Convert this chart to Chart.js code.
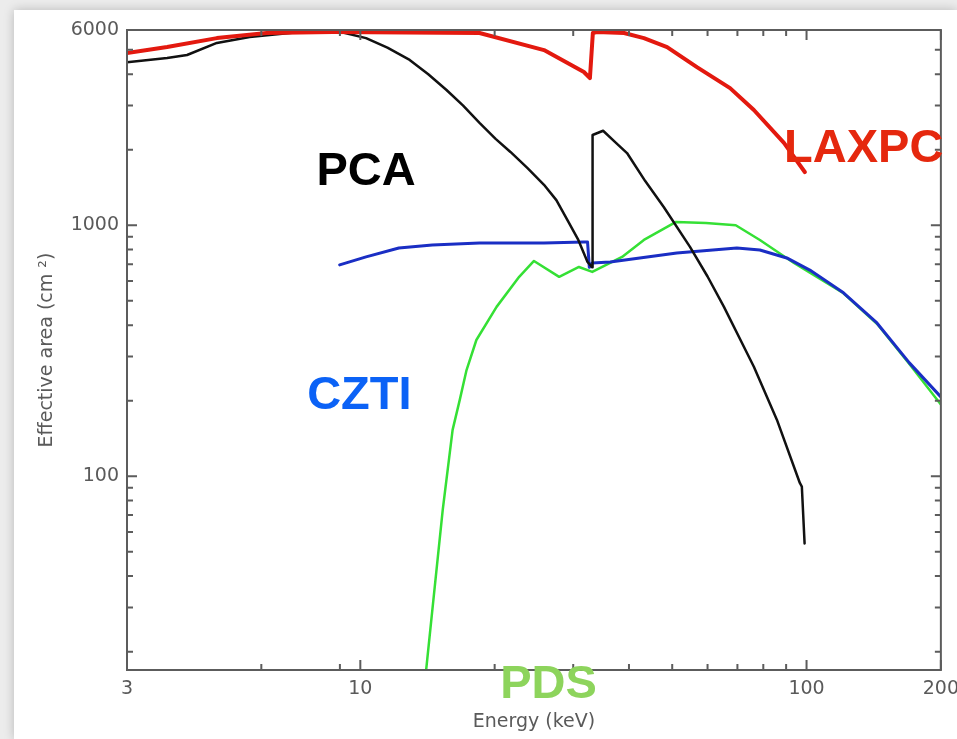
<!DOCTYPE html>
<html>
<head>
<meta charset="utf-8">
<script src="https://cdn.jsdelivr.net/npm/chart.js@4/dist/chart.umd.min.js"></script>
<style>
  html, body { margin: 0; padding: 0; background: #ececec; overflow: hidden; }
  .card { position: absolute; left: 14px; top: 10px; right: 0; bottom: 0; background: #fff; box-shadow: 0 0 10px rgba(0,0,0,0.22); }
  #chart { position: absolute; left: 0; top: 0; }
</style>
</head>
<body>
<div class="card"></div>
<canvas id="chart" width="967" height="739"></canvas>
<script>
// energy (keV) / effective area (cm^2)
const laxpcEnergy = [3, 3.69, 4.77, 6.17, 8.67, 18.5, 25.8, 31.7, 32.7, 33.2, 33.9, 39.0, 43.2, 48.7, 56.8, 67.4, 76.2, 89.0, 99.1];
const laxpcArea   = [4860, 5130, 5570, 5840, 5890, 5840, 4990, 4080, 3860, 5840, 5890, 5840, 5570, 5130, 4270, 3520, 2880, 2130, 1630];

const pcaEnergy = [3, 3.69, 4.09, 4.77, 5.65, 7.31, 8.85, 10.3, 11.5, 12.9, 14.2, 15.6, 17.0, 18.5, 20.1, 21.7, 23.7, 25.8, 27.5, 29.1, 30.8, 32.3, 33.1, 33.15, 35.0, 37.2, 39.6, 43.5, 47.9, 54.8, 60.0, 65.3, 76.2, 85.8, 96.6, 97.6, 99.0];
const pcaArea   = [4460, 4640, 4770, 5330, 5630, 5890, 5950, 5570, 5100, 4560, 4000, 3460, 3000, 2560, 2210, 1960, 1690, 1450, 1260, 1050, 874, 714, 680, 2290, 2380, 2150, 1940, 1500, 1180, 820, 625, 473, 273, 168, 94, 91, 54];

const cztiEnergy = [8.99, 10.3, 12.2, 14.5, 18.5, 25.8, 31.7, 32.3, 32.6, 33.1, 36.3, 51.2, 69.8, 78.6, 90.3, 101.7, 121, 143.8, 170, 200];
const cztiArea   = [695, 748, 812, 834, 850, 850, 858, 858, 680, 708, 714, 776, 812, 797, 741, 663, 538, 408, 283, 207];

const pdsEnergy = [14.0, 14.5, 15.3, 16.1, 16.7, 17.3, 18.2, 20.2, 22.7, 24.5, 27.9, 30.9, 33.1, 38.6, 43.2, 51.0, 59.5, 69.4, 78.6, 93.7, 121, 144, 170, 200];
const pdsArea   = [16, 29.3, 73.4, 153, 201, 265, 349, 473, 623, 721, 623, 682, 652, 748, 874, 1031, 1021, 1000, 874, 708, 536, 404, 280, 193];

const xMajorTicks = [3, 10, 100, 200];
const xMinorTicks = [6, 9, 20, 30, 40, 50, 60, 70, 80, 90];
const yMajorTicks = [100, 1000, 6000];
const yMinorTicks = [20, 30, 40, 50, 60, 70, 80, 90, 200, 300, 400, 500, 600, 700, 800, 900, 2000, 3000, 4000, 5000];

// instrument names, placed in data coordinates (centre x / baseline)
const labelText   = ["PCA", "LAXPC", "CZTI", "PDS"];
const labelEnergy = [10.3, 134.3, 9.95, 26.4];
const labelArea   = [1447, 1786, 185.6, 13.1];
const labelColor  = ["#000000", "#e5280e", "#0b62f6", "#8dd45c"];

const pairs = (xs, ys) => xs.map((x, i) => ({ x: x, y: ys[i] }));

const frameColor = "#5c5c5c";

// inward ticks on all four sides + the frame
const frameTicks = {
  id: "frameTicks",
  afterDatasetsDraw(chart) {
    const ctx = chart.ctx;
    const a = chart.chartArea;
    const xs = chart.scales.x, ys = chart.scales.y;
    ctx.save();
    ctx.strokeStyle = frameColor;
    ctx.lineWidth = 2;
    ctx.strokeRect(a.left, a.top, a.right - a.left, a.bottom - a.top);
    const tick = (vals, len) => {
      vals.forEach(v => {
        const px = xs.getPixelForValue(v);
        if (px < a.left - 0.5 || px > a.right + 0.5) return;
        ctx.beginPath();
        ctx.moveTo(px, a.bottom); ctx.lineTo(px, a.bottom - len);
        ctx.moveTo(px, a.top); ctx.lineTo(px, a.top + len);
        ctx.stroke();
      });
    };
    const ytick = (vals, len) => {
      vals.forEach(v => {
        const py = ys.getPixelForValue(v);
        if (py < a.top - 0.5 || py > a.bottom + 0.5) return;
        ctx.beginPath();
        ctx.moveTo(a.left, py); ctx.lineTo(a.left + len, py);
        ctx.moveTo(a.right, py); ctx.lineTo(a.right - len, py);
        ctx.stroke();
      });
    };
    tick(xMajorTicks, 10);
    tick(xMinorTicks, 6);
    ytick(yMajorTicks, 10);
    ytick(yMinorTicks, 6);
    ctx.restore();
  },
  afterDraw(chart) {
    const ctx = chart.ctx;
    const xs = chart.scales.x, ys = chart.scales.y;
    ctx.save();
    ctx.font = "bold 47px 'Liberation Sans', Arial, sans-serif";
    ctx.textAlign = "left";
    ctx.textBaseline = "alphabetic";
    labelText.forEach((t, i) => {
      ctx.fillStyle = labelColor[i];
      const px = xs.getPixelForValue(labelEnergy[i]);
      const py = ys.getPixelForValue(labelArea[i]);
      const w = ctx.measureText(t).width;
      ctx.fillText(t, px - w / 2, py);
    });
    ctx.restore();
  }
};

new Chart(document.getElementById("chart").getContext("2d"), {
  type: "line",
  data: {
    datasets: [
      { label: "LAXPC", data: pairs(laxpcEnergy, laxpcArea), borderColor: "#e3190f", borderWidth: 4 },
      { label: "PCA", data: pairs(pcaEnergy, pcaArea), borderColor: "#111111", borderWidth: 2.5 },
      { label: "CZTI", data: pairs(cztiEnergy, cztiArea), borderColor: "#1a2ec4", borderWidth: 3 },
      { label: "PDS", data: pairs(pdsEnergy, pdsArea), borderColor: "#35e035", borderWidth: 2.5 }
    ]
  },
  options: {
    responsive: false,
    animation: false,
    layout: { padding: { left: 0, top: 30, right: 0, bottom: 0 } },
    elements: {
      point: { radius: 0 },
      line: { tension: 0, fill: false, borderJoinStyle: "round", borderCapStyle: "round" }
    },
    plugins: { legend: { display: false }, tooltip: { enabled: false } },
    scales: {
      x: {
        type: "logarithmic",
        min: 3,
        max: 200,
        afterBuildTicks: s => { s.ticks = xMajorTicks.map(v => ({ value: v })); },
        afterFit: s => { s.height = 69; },
        grid: { drawOnChartArea: false, drawTicks: false },
        border: { display: false },
        ticks: {
          autoSkip: false,
          maxRotation: 0,
          padding: 8,
          color: "#5a5a5a",
          font: { family: "'DejaVu Sans', sans-serif", size: 19 },
          callback: v => String(v)
        },
        title: {
          display: true,
          text: "Energy (keV)",
          color: "#5a5a5a",
          padding: { top: 0, bottom: 6 },
          font: { family: "'DejaVu Sans', sans-serif", size: 19 }
        }
      },
      y: {
        type: "logarithmic",
        min: 16.9,
        max: 6000,
        afterBuildTicks: s => { s.ticks = yMajorTicks.map(v => ({ value: v })); },
        afterFit: s => { s.width = 127; },
        grid: { drawOnChartArea: false, drawTicks: false },
        border: { display: false },
        ticks: {
          autoSkip: false,
          padding: 8,
          color: "#5a5a5a",
          font: { family: "'DejaVu Sans', sans-serif", size: 19 },
          callback: v => String(v)
        },
        title: {
          display: true,
          text: "Effective area (cm ²)",
          color: "#5a5a5a",
          padding: { top: 36, bottom: 0 },
          font: { family: "'DejaVu Sans', sans-serif", size: 19 }
        }
      }
    }
  },
  plugins: [frameTicks]
});
</script>
</body>
</html>
